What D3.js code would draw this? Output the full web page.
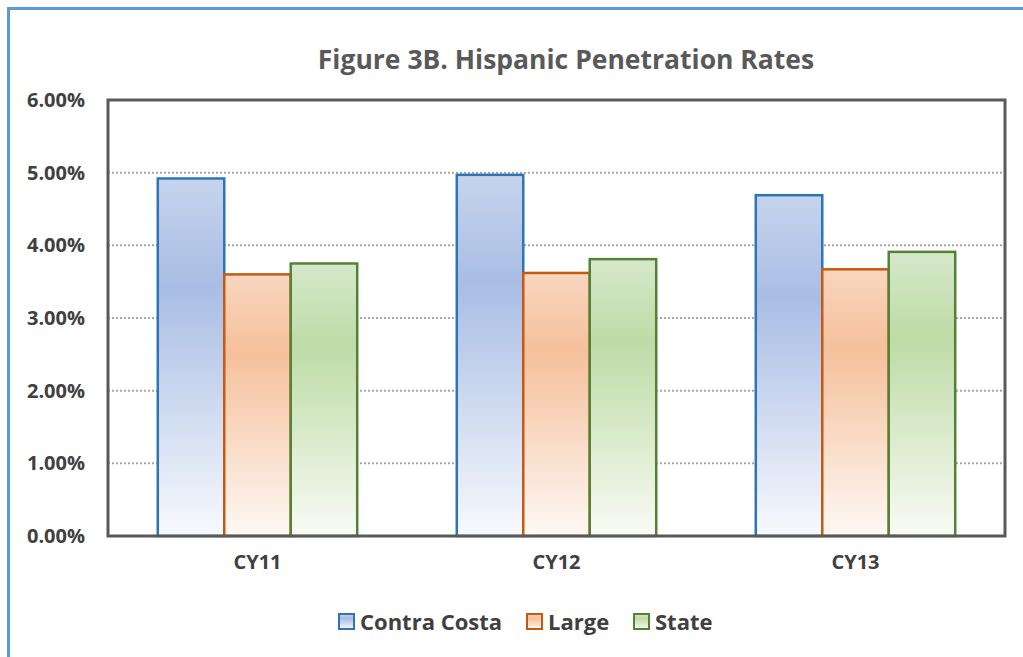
<!DOCTYPE html>
<html>
<head>
<meta charset="utf-8">
<script src="https://cdn.jsdelivr.net/npm/d3@7"></script>
<style>
  body { margin: 0; background: #fff; }
  svg { display: block; font-family: "Open Sans", sans-serif; }
</style>
</head>
<body>
<svg id="chart" width="1023" height="657"></svg>
<script>
// data
const years = ["CY11", "CY12", "CY13"];
const seriesNames = ["Contra Costa", "Large", "State"];
const contraCosta = [4.92, 4.97, 4.69];
const large = [3.60, 3.62, 3.67];
const state = [3.75, 3.81, 3.91];
const yTicks = [0, 1, 2, 3, 4, 5, 6];

const values = [contraCosta, large, state];
const strokes = ["#2e75b6", "#c55a11", "#548235"];
// top, mid, bottom colours of the bar gradient
const fills = [
  ["#c6d4ec", "#a9bde4", "#f7f9fd"],
  ["#f9d6bf", "#f5c09c", "#fef8f4"],
  ["#d6e8cb", "#bedba6", "#f8fbf5"]
];

const W = 1023, H = 657;
const margin = { left: 108, top: 100, right: 18, bottom: 121 };
const svg = d3.select("#chart");

// outer frame (left + top edge visible)
svg.append("path")
  .attr("d", `M8.5,${H} V8.5 H${W}`)
  .attr("fill", "none")
  .attr("stroke", "#5b9bd5")
  .attr("stroke-width", 3);

const defs = svg.append("defs");
fills.forEach((f, i) => {
  const g = defs.append("linearGradient")
    .attr("id", "grad" + i)
    .attr("x1", 0).attr("y1", 0).attr("x2", 0).attr("y2", 1);
  g.append("stop").attr("offset", "0%").attr("stop-color", f[0]);
  g.append("stop").attr("offset", "30%").attr("stop-color", f[1]);
  g.append("stop").attr("offset", "100%").attr("stop-color", f[2]);
});

const x0 = d3.scaleBand()
  .domain(years)
  .range([margin.left, W - margin.right])
  .paddingInner(0)
  .paddingOuter(0);

const groupPad = 0.1665;
const x1 = d3.scaleBand()
  .domain(seriesNames)
  .range([x0.bandwidth() * groupPad, x0.bandwidth() * (1 - groupPad)]);

const y = d3.scaleLinear()
  .domain([0, 6])
  .range([H - margin.bottom, margin.top]);

// title
svg.append("text")
  .attr("x", 566).attr("y", 69)
  .attr("text-anchor", "middle")
  .attr("font-size", 26.5)
  .attr("font-weight", 700)
  .attr("fill", "#595959")
  .text("Figure 3B. Hispanic Penetration Rates");

// gridlines
svg.append("g")
  .selectAll("line")
  .data(yTicks.filter(t => t > 0 && t < 6))
  .join("line")
  .attr("x1", margin.left).attr("x2", W - margin.right)
  .attr("y1", d => y(d)).attr("y2", d => y(d))
  .attr("stroke", "#a6a6a6")
  .attr("stroke-width", 2)
  .attr("stroke-dasharray", "2,2");

// bars
const groups = svg.append("g")
  .selectAll("g")
  .data(years)
  .join("g")
  .attr("transform", d => `translate(${x0(d)},0)`);

groups.selectAll("rect")
  .data((yr, yi) => seriesNames.map((s, si) => ({ s, si, v: values[si][yi] })))
  .join("rect")
  .attr("x", d => x1(d.s))
  .attr("width", x1.bandwidth())
  .attr("y", d => y(d.v))
  .attr("height", d => y(0) - y(d.v))
  .attr("fill", d => `url(#grad${d.si})`)
  .attr("stroke", d => strokes[d.si])
  .attr("stroke-width", 2.5);

// plot frame
svg.append("rect")
  .attr("x", margin.left).attr("y", margin.top)
  .attr("width", W - margin.right - margin.left)
  .attr("height", H - margin.bottom - margin.top)
  .attr("fill", "none")
  .attr("stroke", "#595959")
  .attr("stroke-width", 3);

// y axis labels
const yAxis = svg.append("g")
  .attr("transform", `translate(${margin.left},0)`)
  .call(d3.axisLeft(y).tickValues(yTicks).tickSize(0).tickPadding(23)
    .tickFormat(d => d.toFixed(2) + "%"));
yAxis.select(".domain").remove();
yAxis.selectAll("text")
  .attr("font-family", "Open Sans")
  .attr("font-size", 20)
  .attr("font-weight", 700)
  .attr("fill", "#404040");

// x axis labels
const xAxis = svg.append("g")
  .attr("transform", `translate(0,${H - margin.bottom})`)
  .call(d3.axisBottom(x0).tickSize(0).tickPadding(19));
xAxis.select(".domain").remove();
xAxis.selectAll("text")
  .attr("font-family", "Open Sans")
  .attr("font-size", 20)
  .attr("font-weight", 700)
  .attr("fill", "#404040");

// legend
const legendX = [339, 527, 634];
const legend = svg.append("g")
  .selectAll("g")
  .data(seriesNames)
  .join("g")
  .attr("transform", (d, i) => `translate(${legendX[i]},614)`);
legend.append("rect")
  .attr("width", 15).attr("height", 15)
  .attr("fill", (d, i) => `url(#grad${i})`)
  .attr("stroke", (d, i) => strokes[i])
  .attr("stroke-width", 2);
legend.append("text")
  .attr("x", 21).attr("y", 16)
  .attr("font-size", 22)
  .attr("font-weight", 700)
  .attr("fill", "#404040")
  .text(d => d);
</script>
</body>
</html>
